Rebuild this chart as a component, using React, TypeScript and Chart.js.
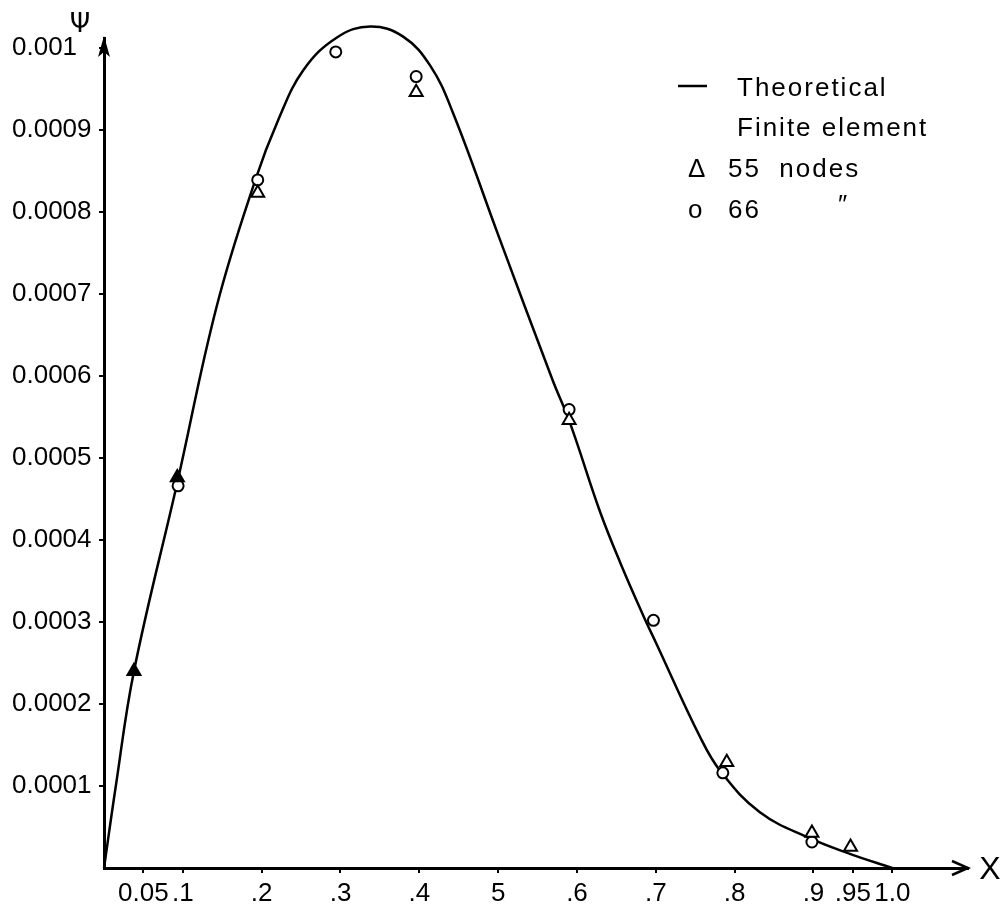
import React, { useEffect, useRef } from "react";
import { Chart, registerables } from "chart.js";

Chart.register(...registerables);

// ---- Data ----
const xTickValues = [0.05, 0.1, 0.2, 0.3, 0.4, 0.5, 0.6, 0.7, 0.8, 0.9, 0.95, 1.0];
const xTickLabels = ["0.05", ".1", ".2", ".3", ".4", "5", ".6", ".7", ".8", ".9", ".95", "1.0"];
const yTickValues = [0.0001, 0.0002, 0.0003, 0.0004, 0.0005, 0.0006, 0.0007, 0.0008, 0.0009, 0.001];
const yTickLabels = ["0.0001", "0.0002", "0.0003", "0.0004", "0.0005", "0.0006", "0.0007", "0.0008", "0.0009", "0.001"];

// Theoretical curve
const theoryX = [0, 0.015, 0.038, 0.093, 0.143, 0.192, 0.221, 0.253, 0.296, 0.338, 0.379, 0.414, 0.443, 0.5, 0.569, 0.591, 0.629, 0.655, 0.684, 0.7, 0.756, 0.782, 0.832, 0.896, 0.947, 1.0];
const theoryY = [0, 0.0001, 0.00024, 0.00047, 0.000685, 0.000839, 0.000912, 0.000973, 0.001013, 0.001026, 0.001014, 0.000978, 0.00092, 0.000772, 0.000595, 0.000543, 0.000435, 0.000372, 0.000308, 0.000275, 0.00016, 0.000118, 0.000068, 0.000036, 0.000017, 0];

// Finite element, 55 nodes (triangles)
const nodes55X = [0.038, 0.093, 0.195, 0.396, 0.59, 0.79, 0.898, 0.947];
const nodes55Y = [0.00024, 0.000476, 0.000823, 0.000946, 0.000546, 0.000129, 0.0000427, 0.0000256];
const nodes55Filled = [true, true, false, false, false, false, false, false];

// Finite element, 66 nodes (circles)
const nodes66X = [0.094, 0.195, 0.294, 0.396, 0.59, 0.697, 0.785, 0.898];
const nodes66Y = [0.000466, 0.000839, 0.000995, 0.000965, 0.000559, 0.000302, 0.000116, 0.0000317];

const toPoints = (xs: number[], ys: number[]) => xs.map((x, i) => ({ x, y: ys[i] }));

const FONT = '"Liberation Sans", "DejaVu Sans", sans-serif';

const decorPlugin = {
  id: "decor",
  afterDraw(chart: any) {
    const ctx = chart.ctx as CanvasRenderingContext2D;
    const { left, right, top, bottom } = chart.chartArea;
    ctx.save();
    ctx.fillStyle = "#000";
    ctx.strokeStyle = "#000";
    // y-axis arrow head
    ctx.beginPath();
    ctx.moveTo(left, top - 2);
    ctx.lineTo(left - 6, top + 19);
    ctx.lineTo(left, top + 14);
    ctx.lineTo(left + 6, top + 19);
    ctx.closePath();
    ctx.fill();
    // x-axis arrow head (open chevron)
    ctx.lineWidth = 2.5;
    ctx.beginPath();
    ctx.moveTo(right - 16, bottom - 7);
    ctx.lineTo(right, bottom);
    ctx.lineTo(right - 16, bottom + 7);
    ctx.stroke();
    // axis titles
    ctx.textBaseline = "middle";
    ctx.textAlign = "center";
    ctx.font = '26px "DejaVu Sans", sans-serif';
    ctx.fillText("\u03A8", left - 24, 25);
    ctx.font = "32px " + FONT;
    ctx.fillText("X", right + 22, bottom + 2);
    // legend
    ctx.textAlign = "left";
    ctx.font = "26px " + FONT;
    (ctx as any).letterSpacing = "2px";
    ctx.lineWidth = 2.5;
    ctx.beginPath();
    ctx.moveTo(678, 86);
    ctx.lineTo(707, 86);
    ctx.stroke();
    ctx.fillText("Theoretical", 737, 89);
    ctx.fillText("Finite element", 737, 129);
    ctx.fillText("\u0394", 688, 170);
    ctx.fillText("55  nodes", 728, 170);
    ctx.fillText("o", 688, 211);
    ctx.fillText("66", 728, 211);
    ctx.fillText("\u2033", 838, 206);
    ctx.restore();
  },
};

export default function App() {
  const ref = useRef<HTMLCanvasElement | null>(null);

  useEffect(() => {
    if (!ref.current) return;
    const chart = new Chart(ref.current, {
      type: "scatter",
      data: {
        datasets: [
          {
            label: "55 nodes",
            data: toPoints(nodes55X, nodes55Y),
            pointStyle: "triangle",
            pointRadius: 7.5,
            pointBorderWidth: 2,
            pointBorderColor: "#000",
            pointBackgroundColor: nodes55Filled.map((f) => (f ? "#000" : "#fff")),
            showLine: false,
            order: 1,
            clip: false,
          } as any,
          {
            label: "66",
            data: toPoints(nodes66X, nodes66Y),
            pointStyle: "circle",
            pointRadius: 5.5,
            pointBorderWidth: 2,
            pointBorderColor: "#000",
            pointBackgroundColor: "#fff",
            showLine: false,
            order: 2,
            clip: false,
          } as any,
          {
            label: "Theoretical",
            data: toPoints(theoryX, theoryY),
            showLine: true,
            borderColor: "#000",
            borderWidth: 2.5,
            pointRadius: 0,
            tension: 0.4,
            order: 3,
            clip: false,
          } as any,
        ],
      },
      options: {
        responsive: false,
        animation: false,
        devicePixelRatio: 1,
        layout: { padding: { left: 12, top: 38, right: 39, bottom: 0 } },
        plugins: { legend: { display: false }, tooltip: { enabled: false } },
        scales: {
          x: {
            type: "linear",
            min: 0,
            max: 1.096,
            afterBuildTicks: (s: any) => {
              s.ticks = xTickValues.map((v) => ({ value: v }));
            },
            afterFit: (s: any) => {
              s.height = 37;
            },
            ticks: {
              autoSkip: false,
              maxRotation: 0,
              padding: 5,
              color: "#000",
              font: { family: FONT, size: 26 },
              callback: (_v: any, i: number) => xTickLabels[i],
            },
            grid: { display: true, drawOnChartArea: false, tickLength: 5, color: "#000", lineWidth: 2 },
            border: { display: true, color: "#000", width: 3 },
          },
          y: {
            type: "linear",
            min: 0,
            max: 0.001012,
            afterBuildTicks: (s: any) => {
              s.ticks = yTickValues.map((v) => ({ value: v }));
            },
            afterFit: (s: any) => {
              s.width = 92;
            },
            ticks: {
              autoSkip: false,
              crossAlign: "far",
              color: "#000",
              font: { family: FONT, size: 26 },
              callback: (_v: any, i: number) => yTickLabels[i],
            },
            grid: { display: true, drawOnChartArea: false, tickLength: 5, color: "#000", lineWidth: 2 },
            border: { display: true, color: "#000", width: 3 },
          },
        },
      },
      plugins: [decorPlugin],
    });
    return () => chart.destroy();
  }, []);

  return (
    <div style={{ position: "absolute", left: 0, top: 0, width: 1007, height: 905, background: "#fff" }}>
      <canvas ref={ref} width={1007} height={905} />
    </div>
  );
}
